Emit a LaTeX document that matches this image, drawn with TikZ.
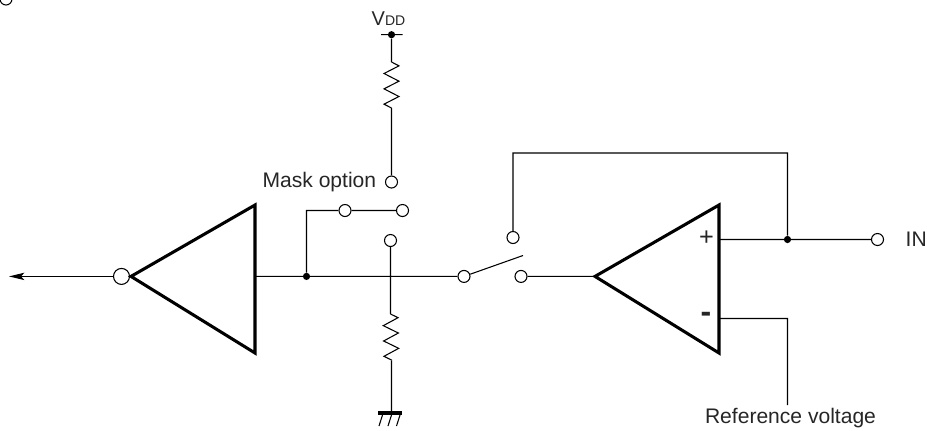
\documentclass[tikz,border=0pt]{standalone}
\usepackage{fontspec}
\setmainfont{Liberation Sans}
\usetikzlibrary{arrows.meta,positioning,decorations.pathmorphing}
\tikzset{
    %Define standard arrow tip
    >={Stealth[length=11.5pt,width=5.5pt,inset=2.5pt]},
    font=\fontsize{15.8}{18}\selectfont,
    % Define style for wires
    wire/.style={
           draw=black,
           line width=0.8pt},
    % Define style for amplifier triangles
    amp/.style={
           draw=black,
           line width=2.3pt,
           line join=miter},
    % Define style for resistors
    resistor/.style={
           wire,
           decorate,
           decoration={zigzag,segment length=11.5pt,amplitude=5.6pt}},
    % Define standard node styles
    terminal/.style={circle,fill=white,draw=black,line width=0.8pt,inner sep=0pt,minimum size=9pt},
    invert/.style={terminal,minimum size=12pt},
    junction/.style={circle,fill=black,inner sep=0pt,minimum size=5.4pt},
    label/.style={inner sep=0pt,text=black!85}
}
\begin{document}
\begin{tikzpicture}[x=0.75pt,y=-0.75pt,node distance=6pt]
  \useasboundingbox (0,0) rectangle (927,430);
  % amplifier corners
  \coordinate (l1) at (255,205);
  \coordinate (l2) at (255,353);
  \coordinate (l3) at (131,276.4);
  \coordinate (r1) at (719,205);
  \coordinate (r2) at (719,353);
  \coordinate (r3) at (595,276.4);
  \coordinate (lout) at (255,276.4);
  \coordinate (rplus) at (719,239.5);
  \coordinate (rminus) at (719,318.5);
  % terminals
  \node[terminal] (corner) at (6,-1) {};
  \node[terminal] (mask) at (391.5,182) {};
  \node[terminal] (m1) at (345,210.5) {};
  \node[terminal] (m2) at (402.5,210.5) {};
  \node[terminal] (m3) at (390.5,240.5) {};
  \node[terminal] (s1) at (464,276.4) {};
  \node[terminal] (s2) at (521,276.4) {};
  \node[terminal] (s3) at (513,237.5) {};
  \node[terminal] (in) at (877.5,239.5) {};
  \node[invert] (inv) at (121.5,276.4) {};
  % junctions
  \node[junction] (vdd) at (391.5,34.7) {};
  \node[junction] (j1) at (306.5,276.4) {};
  \node[junction] (j2) at (787.5,239.5) {};
  % free ends
  \coordinate (j3) at (390.5,276.4);
  \coordinate (tip) at (9,276.4);
  \coordinate (ra) at (391.5,62);
  \coordinate (rb) at (391.5,108);
  \coordinate (rc) at (390.5,314);
  \coordinate (rd) at (391.5,360.5);
  \coordinate (gnd) at (391.5,413);
  \coordinate (m0) at (306.5,210.5);
  \coordinate (fb1) at (787.5,153);
  \coordinate (fb2) at (513,153);
  \coordinate (ref1) at (787.5,318.5);
  \coordinate (ref2) at (787.5,405);
  \coordinate (blade) at (523,255.5);
  \coordinate (vl) at (381,34.7);
  \coordinate (vr) at (402.5,34.7);
  \coordinate (gl) at (378,413);
  \coordinate (gr) at (402,413);
  % labels
  \node[label] (vddlabel) at (388.5,19) {\fontsize{15}{18}\selectfont V{\fontsize{10.5}{13}\selectfont DD}};
  \node[label] (masklabel) [left=6.4pt of mask] {Mask option};
  \node[label] (inlabel) [right=16pt of in] {IN};
  \node[label] (reflabel) at (790.5,418) {Reference voltage};
  \node[label] (plus) at (706.5,238) {\fontsize{19}{19}\selectfont +};
  \node[label] (minus) at (706,317) {\fontsize{24}{24}\selectfont\bfseries -};
  % wires
  \path[wire]
    (mask) -- (rb)
    (ra) -- (vdd)
    (vl) -- (vr)
    (rc) -- (j3) -- (m3)
    (rd) -- (gnd)
    (lout) -- (s1)
    (s2) -- (r3)
    (j1) -- (m0) -- (m1) -- (m2)
    (s3) -- (fb2) -- (fb1) -- (j2)
    (rplus) -- (in)
    (rminus) -- (ref1) -- (ref2)
    (s1) -- (blade);
  \draw[wire,->] (inv) -- (tip);
  % resistors
  \path[resistor] (ra) -- (rb);
  \path[resistor] (rc) -- (rd);
  % ground
  \draw[line width=2.3pt] (gl) -- (gr);
  \foreach \i in {-9,0,8.5}
    \draw[line width=0.8pt] ([shift={(\i,2)}]gnd) -- ([shift={(\i-3.5,13)}]gnd);
  % amplifiers
  \draw[amp] (l1) -- (l2) -- (l3) -- cycle;
  \draw[amp] (r1) -- (r2) -- (r3) -- cycle;
\end{tikzpicture}
\end{document}
